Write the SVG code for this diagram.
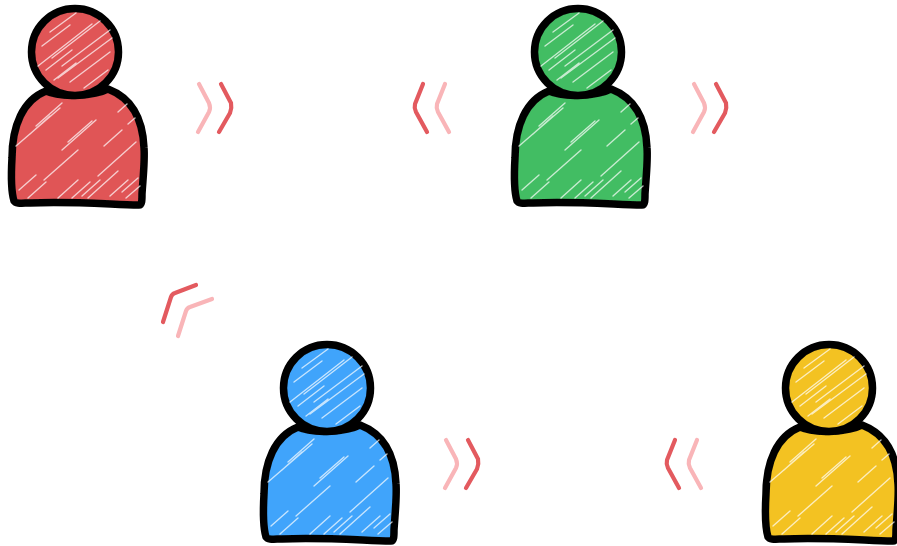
<svg xmlns="http://www.w3.org/2000/svg" width="897" height="546" viewBox="0 0 897 546">
<style>
.outline{stroke:#050505;stroke-width:7.5;stroke-linejoin:round;stroke-linecap:round}
.hatch{fill:none;stroke:#fff;stroke-linecap:round;stroke-width:1.4;opacity:.7}
.dark{fill:none;stroke:#e35a5f;stroke-width:4.2;stroke-linecap:round;stroke-linejoin:round}
.light{fill:none;stroke:#f9b5b8;stroke-width:4.2;stroke-linecap:round;stroke-linejoin:round}
.red{fill:#e05557}.green{fill:#43bd63}.blue{fill:#3fa4fb}.yellow{fill:#f3c222}
</style>
<defs>
<filter id="soft" x="-5%" y="-5%" width="110%" height="110%"><feGaussianBlur stdDeviation="0.7"/></filter>
<g id="person" filter="url(#soft)">
<path class="outline" d="M46 91C23 100 12 126 12 158C11 175 11 191 14 201C16 204 22 203 30 203C65 201 105 204 139 205C142 205 142 200 142 194C143 178 145 160 144 148C143 122 134 99 108 89C95 96 60 98 46 91Z"/>
<g class="hatch">
<path d="M16 146L60 108M19 190L36 175M44 180L78 150M62 150L96 120M68 142L92 121M88 198L118 171M98 176L136 142M122 192L138 178M118 112L127 104M128 124L135 118M104 146L122 130M28 198L46 182M58 198L78 180M72 198L90 182M126 198L140 186M36 126L62 103M82 196L100 180M30 134L50 116M110 196L128 180"/>
</g>
<circle class="outline" cx="75" cy="52" r="43.5"/>
<g class="hatch">
<path d="M50 32L76 13M42 46L70 25M38 66L92 24M52 58L100 21M62 66L110 30M58 78L112 38M70 82L110 52M84 88L108 70M46 70L72 50M54 80L76 63"/>
</g>
</g>
<g id="chev-right">
<path class="light" d="M199 84L209 103Q211 108 209 112L198 132"/>
<path class="dark" d="M221 84L231 103Q232 108 230 113L219 132"/>
</g>
<g id="chev-left">
<path class="dark" d="M423 84L415 104Q414 108 416 112L427 132"/>
<path class="light" d="M445 84L437 104Q436 108 438 112L449 132"/>
</g>
</defs>
<g id="connectors" filter="url(#soft)">
<use href="#chev-right"/>
<use href="#chev-left"/>
<use href="#chev-right" x="495"/>
<use href="#chev-right" x="247" y="356"/>
<use href="#chev-left" x="252" y="356"/>
<path class="dark" d="M196 285L175 293Q172 294 171 297L163 322"/>
<path class="light" d="M212 299L190 307Q187 308 186 311L178 336"/>
</g>
<g id="person-red" class="red"><use href="#person"/></g>
<g id="person-green" class="green"><use href="#person" x="503"/></g>
<g id="person-blue" class="blue"><use href="#person" x="252" y="336"/></g>
<g id="person-yellow" class="yellow"><use href="#person" x="754" y="336"/></g>
</svg>
